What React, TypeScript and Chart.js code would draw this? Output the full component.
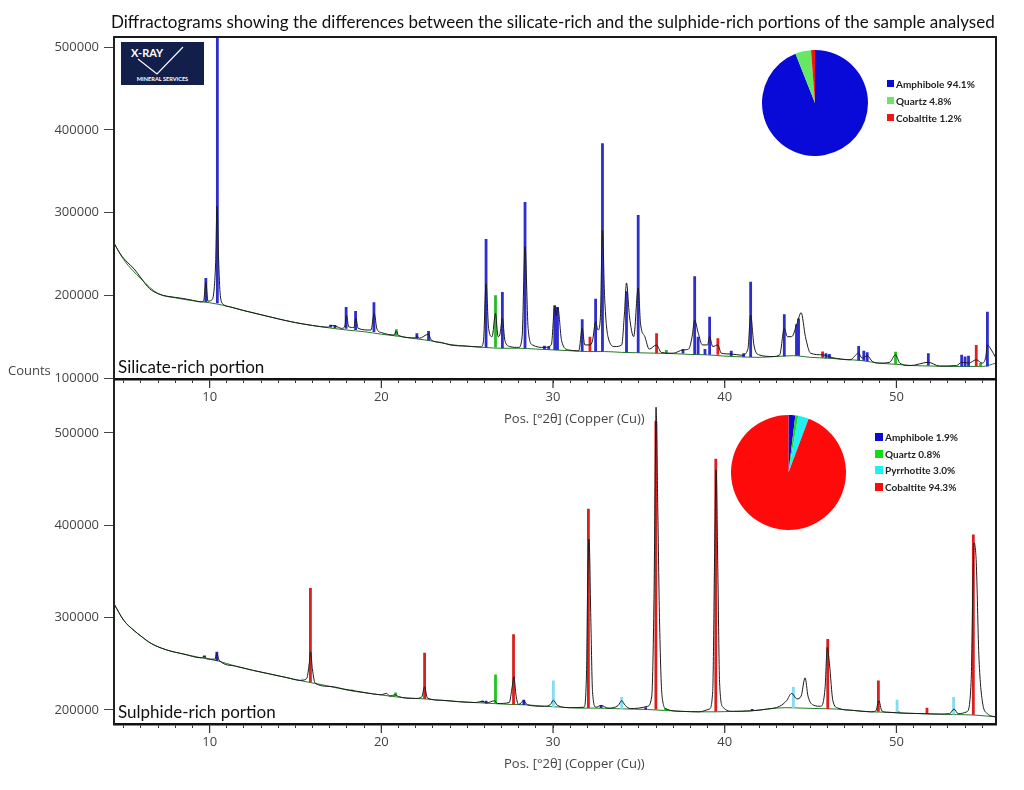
import React, { useEffect, useRef } from "react";
import { Chart, registerables } from "chart.js";

Chart.register(...registerables);

type Pt = [number, number];
type Stick = [number, number, number]; // position, base, top

// ---------- Silicate-rich portion (top panel) ----------
const silicateProfile: Pt[] = [
  [4.43, 263000], [4.8, 250000], [5.2, 240000], [5.6, 232000], [6.0, 221000], [6.5, 208000],
  [7.0, 202000], [7.5, 199000], [8.0, 197500], [8.5, 196000], [9.0, 194000], [9.5, 192000],
  [9.65, 193000], [9.78, 216000], [9.9, 193000], [10.1, 194000], [10.25, 205000], [10.35, 240000],
  [10.43, 308000], [10.52, 245000], [10.62, 200000], [10.8, 189000], [11.2, 186000], [12.0, 181500],
  [13.0, 176500], [14.0, 171500], [15.0, 167000], [16.0, 163500], [16.9, 161500], [17.05, 163500],
  [17.3, 163000], [17.7, 160000], [17.88, 163000], [17.97, 176000], [18.1, 162000], [18.4, 161000],
  [18.52, 172000], [18.65, 160000], [19.4, 158000], [19.58, 178000], [19.75, 159000], [20.0, 155000],
  [20.75, 152000], [20.87, 157000], [21.0, 151500], [22.0, 148500], [22.07, 151000], [22.2, 148000],
  [22.75, 153000], [22.9, 146000], [23.5, 143000], [24.0, 140000], [25.0, 138500], [25.8, 137500],
  [25.95, 145000], [26.1, 214000], [26.25, 160000], [26.45, 150000], [26.65, 178000], [26.8, 150000],
  [26.9, 152000], [27.05, 172000], [27.2, 145000], [27.5, 138000], [28.0, 137000], [28.2, 150000],
  [28.37, 259000], [28.55, 160000], [28.8, 140000], [29.5, 137000], [29.9, 140000], [30.1, 187000],
  [30.18, 175000], [30.28, 185000], [30.5, 145000], [30.9, 134000], [31.5, 133000], [31.7, 160000],
  [31.85, 140000], [32.15, 140000], [32.3, 145000], [32.48, 168000], [32.62, 158000], [32.75, 170000],
  [32.88, 279000], [33.0, 200000], [33.2, 150000], [33.6, 138000], [34.0, 140000], [34.15, 175000],
  [34.28, 215000], [34.45, 175000], [34.7, 150000], [34.96, 209000], [35.1, 165000], [35.35, 150000],
  [35.6, 135000], [36.03, 140000], [36.3, 131000], [37.0, 130000], [37.57, 134000], [37.9, 135000],
  [38.1, 150000], [38.25, 170000], [38.45, 155000], [38.7, 140000], [39.0, 140000], [39.12, 150000],
  [39.3, 138000], [39.6, 140000], [39.8, 130000], [40.4, 129000], [41.0, 127500], [41.35, 135000],
  [41.51, 176000], [41.7, 140000], [42.0, 128000], [42.8, 126000], [43.2, 128000], [43.47, 160000],
  [43.65, 150000], [43.9, 150000], [44.2, 165000], [44.45, 179000], [44.7, 150000], [45.0, 130000],
  [45.7, 128000], [46.3, 124500], [47.3, 122000], [47.8, 130000], [48.0, 124000], [48.3, 127000],
  [48.6, 120000], [49.0, 118000], [49.6, 119000], [49.95, 128000], [50.2, 118000], [50.8, 115000],
  [51.86, 119000], [52.5, 114500], [53.5, 115000], [53.8, 119000], [54.2, 118000], [54.65, 122000],
  [55.0, 118000], [55.2, 125000], [55.3, 140000], [55.5, 135000], [55.8, 124000],
];

const silicateBackground: Pt[] = [
  [4.43, 263000], [5.0, 243000], [6.0, 220000], [7.0, 202000], [8.0, 197000], [9.0, 193500],
  [10.0, 191000], [11.0, 187000], [12.0, 181500], [13.0, 176500], [14.0, 171500], [15.0, 167000],
  [16.0, 163500], [17.0, 160500], [18.0, 158000], [19.0, 156000], [20.0, 153000], [21.0, 150500],
  [22.0, 147500], [23.0, 144500], [24.0, 140500], [25.0, 138500], [26.0, 137000], [27.0, 136000],
  [28.0, 136000], [29.0, 135000], [30.0, 134000], [31.0, 133000], [32.0, 132000], [33.0, 132000],
  [34.0, 131000], [35.0, 130500], [36.0, 130000], [37.0, 129500], [38.0, 128500], [39.0, 128000],
  [40.0, 126500], [41.0, 125500], [42.0, 125000], [43.0, 126000], [44.0, 127000], [45.0, 125000],
  [46.0, 124000], [47.0, 122500], [48.0, 121000], [49.0, 118000], [50.0, 116500], [51.0, 115000],
  [52.0, 114500], [53.0, 114000], [54.0, 114000], [55.0, 114000], [55.8, 118000],
];

const silicateAmphibole: Stick[] = [
  [9.78, 192000, 221000], [10.45, 190500, 540000], [17.05, 161000, 164500], [17.3, 160500, 164000],
  [17.95, 159500, 186000], [18.5, 158000, 181000], [19.57, 155500, 191500], [22.07, 147500, 154000],
  [22.75, 145500, 157000], [26.1, 137000, 268000], [27.05, 136000, 204000], [28.37, 136000, 313000],
  [29.5, 135000, 139000], [29.75, 134500, 138500], [30.1, 134000, 188000], [30.26, 134000, 186000],
  [31.7, 132500, 171000], [32.48, 132000, 196000], [32.88, 132000, 384000], [34.28, 131000, 205000],
  [34.96, 130500, 297000], [37.57, 129500, 135000], [38.25, 128500, 223000], [38.45, 128500, 150000],
  [38.85, 128000, 135000], [39.12, 128000, 174000], [40.38, 126500, 133000], [41.1, 125500, 130000],
  [41.51, 125500, 216500], [43.47, 126000, 177000], [44.18, 127000, 165000], [44.3, 127000, 172000],
  [45.9, 124000, 130000], [46.1, 124000, 129000], [47.8, 121500, 138700], [48.1, 121000, 133000],
  [48.3, 120500, 131000], [51.86, 115000, 130000], [53.8, 114000, 128000], [54.0, 114000, 126000],
  [54.2, 114000, 127000], [55.3, 114000, 180000],
];
const silicateQuartz: Stick[] = [
  [20.87, 150500, 159000], [26.65, 137000, 200000], [36.6, 130000, 134000], [49.95, 117000, 131800],
  [54.9, 114000, 118000],
];
const silicateCobaltite: Stick[] = [
  [32.15, 132000, 150000], [36.03, 130000, 154000], [39.6, 128000, 148000], [45.7, 124500, 132000],
  [54.65, 114000, 140000],
];

// ---------- Sulphide-rich portion (bottom panel) ----------
const sulphideProfile: Pt[] = [
  [4.43, 315000], [5.0, 297000], [5.6, 286000], [6.0, 280000], [6.6, 272000], [7.5, 265000],
  [8.5, 260500], [9.5, 256500], [9.7, 258000], [9.85, 255500], [10.3, 255000], [10.42, 261000],
  [10.55, 254000], [11.5, 247500], [12.5, 243000], [13.5, 239000], [14.5, 235000], [15.3, 232000],
  [15.65, 234000], [15.8, 250000], [15.88, 263000], [15.98, 245000], [16.15, 229000], [17.0, 225500],
  [18.0, 222000], [19.0, 219000], [20.0, 216500], [20.3, 218000], [20.5, 215000], [20.8, 216500],
  [21.0, 214500], [22.0, 212500], [22.35, 214000], [22.52, 225000], [22.68, 213000], [23.5, 210500],
  [24.5, 209000], [25.5, 208000], [25.9, 209500], [26.1, 207500], [26.6, 210000], [26.75, 207000],
  [27.45, 208000], [27.62, 225000], [27.72, 236000], [27.85, 215000], [28.0, 206000], [28.3, 210000],
  [28.5, 205500], [29.5, 204000], [29.85, 206000], [30.02, 210500], [30.25, 205000], [31.0, 202500],
  [31.8, 203000], [31.95, 240000], [32.02, 340000], [32.1, 385000], [32.2, 300000], [32.3, 220000],
  [32.5, 203000], [32.8, 205000], [33.2, 202000], [33.8, 205000], [34.0, 210000], [34.2, 205000],
  [34.5, 201500], [35.0, 202000], [35.5, 204000], [35.75, 215000], [35.88, 320000], [35.95, 450000],
  [36.0, 528000], [36.1, 420000], [36.2, 300000], [36.35, 215000], [36.6, 201000], [37.5, 198500],
  [38.5, 198000], [39.1, 201000], [39.3, 220000], [39.42, 380000], [39.5, 460000], [39.6, 350000],
  [39.7, 230000], [39.9, 203000], [40.5, 198500], [41.5, 199000], [42.5, 201000], [43.2, 204000],
  [43.6, 210000], [43.9, 218000], [44.2, 212000], [44.45, 215000], [44.68, 234800], [44.85, 215000],
  [45.2, 205000], [45.6, 204000], [45.85, 225000], [45.97, 268000], [46.1, 250000], [46.3, 210000],
  [46.6, 202000], [47.5, 199500], [48.5, 198000], [48.8, 199000], [48.98, 210000], [49.15, 199000],
  [49.5, 197500], [50.5, 196500], [51.5, 196000], [52.5, 195500], [53.1, 196000], [53.35, 201000],
  [53.6, 196000], [54.1, 198000], [54.35, 230000], [54.45, 330000], [54.52, 381000], [54.65, 360000],
  [54.8, 260000], [55.0, 210000], [55.3, 196000], [55.8, 192500],
];

const sulphideBackground: Pt[] = [
  [4.43, 315000], [5.0, 297000], [5.6, 286000], [6.0, 280000], [6.6, 272000], [7.5, 265000],
  [8.5, 260500], [9.5, 256500], [10.5, 253000], [11.5, 247500], [12.5, 243000], [13.5, 239000],
  [14.5, 235000], [15.5, 231000], [16.5, 227500], [17.5, 223500], [18.5, 220000], [19.5, 217500],
  [20.5, 215000], [21.5, 213000], [22.5, 212000], [23.5, 210500], [24.5, 209000], [25.5, 208000],
  [26.5, 207000], [27.5, 206000], [28.5, 205500], [29.5, 204000], [30.5, 203000], [31.5, 202000],
  [32.5, 202000], [33.5, 201500], [34.5, 201000], [35.5, 200500], [36.5, 199500], [37.5, 198500],
  [38.5, 198000], [39.5, 198000], [40.5, 198500], [41.5, 199000], [42.5, 201000], [43.5, 202500],
  [44.5, 202000], [45.5, 201500], [46.5, 201000], [47.5, 199500], [48.5, 198000], [49.5, 197500],
  [50.5, 196500], [51.5, 196000], [52.5, 195500], [53.5, 195000], [54.5, 194500], [55.8, 192500],
];

const sulphideCobaltite: Stick[] = [
  [15.87, 230000, 332000], [22.52, 212000, 262000], [27.7, 206000, 282000], [32.06, 202000, 418000],
  [35.99, 200500, 513000], [39.48, 198000, 472000], [46.0, 201000, 277000], [48.95, 198000, 232000],
  [51.78, 196000, 202500], [54.48, 194500, 390000],
];
const sulphidePyrrhotite: Stick[] = [
  [15.4, 231500, 234000], [30.02, 203000, 232000], [34.0, 201000, 214000], [44.0, 202000, 225000],
  [50.04, 196500, 211000], [53.33, 195000, 214000],
];
const sulphideAmphibole: Stick[] = [
  [9.7, 256500, 259000], [10.42, 253000, 263000], [18.3, 220500, 222000], [25.9, 208000, 210000],
  [26.1, 207500, 210000], [28.3, 205500, 211000], [32.8, 202000, 205000], [35.4, 200500, 203000],
  [41.6, 199000, 201000],
];
const sulphideQuartz: Stick[] = [
  [20.83, 215000, 219000], [26.65, 207000, 238500], [36.55, 199500, 202000], [50.1, 196500, 199000],
];

// ---------- Axes / ticks ----------
const xRange: [number, number] = [4.43, 55.8];
const xLabelEvery = 10;
const silicateYRange: [number, number] = [98800, 512400];
const sulphideYRange: [number, number] = [184800, 557400];
const silicateYTicks = [100000, 200000, 300000, 400000, 500000];
const sulphideYTicks = [200000, 300000, 400000, 500000];

// ---------- Phase proportions ----------
const silicatePhases = ["Amphibole", "Quartz", "Cobaltite"];
const silicateShares = [94.1, 4.8, 1.2];
const silicateColors = ["#0a0ad8", "#66e866", "#ee1515"];
const sulphidePhases = ["Amphibole", "Quartz", "Pyrrhotite", "Cobaltite"];
const sulphideShares = [1.9, 0.8, 3.0, 94.3];
const sulphideColors = ["#0a0ad0", "#12dd12", "#22f0f0", "#ff0a0a"];

const TICK_FONT = { family: "'Open Sans', sans-serif", size: 13 };
const TEXT_COLOR = "#444";

const stickData = (s: Stick[]) =>
  s.flatMap(([x, b, t]) => [{ x, y: b }, { x, y: t }, { x, y: null as number | null }]);
const ptData = (p: Pt[]) => p.map(([x, y]) => ({ x, y }));

const framePlugin = {
  id: "frame",
  afterDraw(chart: any, _args: any, opts: any) {
    const { ctx, chartArea } = chart;
    const { left, right, top, bottom } = chartArea;
    ctx.save();
    ctx.strokeStyle = "#1a1a1a";
    ctx.lineWidth = 2;
    ctx.beginPath();
    if (opts.top) {
      ctx.moveTo(left, top);
      ctx.lineTo(right, top);
    }
    ctx.moveTo(right, top - (opts.top ? 1 : 0));
    ctx.lineTo(right, bottom);
    ctx.stroke();
    const xs = chart.scales.x;
    ctx.beginPath();
    ctx.lineWidth = 1.2;
    ctx.strokeStyle = "#333";
    xs.ticks.forEach((t: any) => {
      if (Math.round(t.value) % xLabelEvery === 0) {
        const px = xs.getPixelForValue(t.value);
        ctx.moveTo(px, bottom);
        ctx.lineTo(px, bottom + 9);
      }
    });
    ctx.stroke();
    ctx.restore();
  },
};

type PanelProps = {
  profile: Pt[];
  background: Pt[];
  sticks: { data: Stick[]; color: string }[];
  yRange: [number, number];
  yTicks: number[];
  padTop: number;
  xHeight: number;
  frameTop: boolean;
  top: number;
  height: number;
  z: number;
};

function Panel(p: PanelProps) {
  const ref = useRef<HTMLCanvasElement>(null);
  useEffect(() => {
    if (!ref.current) return;
    const datasets: any[] = [
      {
        data: ptData(p.profile),
        borderColor: "#1b1b1b",
        borderWidth: 1,
        pointRadius: 0,
        cubicInterpolationMode: "monotone",
        order: 1,
      },
      ...p.sticks.map((s) => ({
        data: stickData(s.data),
        borderColor: s.color,
        borderWidth: 2.8,
        pointRadius: 0,
        spanGaps: false,
        order: 2,
      })),
      {
        data: ptData(p.background),
        borderColor: "#237a23",
        borderWidth: 1,
        pointRadius: 0,
        cubicInterpolationMode: "monotone",
        order: 3,
      },
    ];
    const chart = new Chart(ref.current, {
      type: "line",
      data: { datasets },
      plugins: [framePlugin],
      options: {
        animation: false,
        responsive: true,
        maintainAspectRatio: false,
        layout: { padding: { top: p.padTop, right: 28, left: 0, bottom: 0 } },
        plugins: {
          legend: { display: false },
          tooltip: { enabled: false },
          frame: { top: p.frameTop },
        } as any,
        scales: {
          x: {
            type: "linear",
            min: xRange[0],
            max: xRange[1],
            afterFit: (s: any) => {
              s.height = p.xHeight;
            },
            ticks: {
              stepSize: 1,
              autoSkip: false,
              maxRotation: 0,
              includeBounds: false,
              padding: 6,
              font: TICK_FONT,
              color: TEXT_COLOR,
              callback: (v: any) => (Math.round(v) % xLabelEvery === 0 ? String(Math.round(v)) : ""),
            },
            grid: { drawOnChartArea: false, drawTicks: true, tickLength: 4, color: "#333" },
            border: { display: true, color: "#111", width: 2.5 },
          },
          y: {
            type: "linear",
            min: p.yRange[0],
            max: p.yRange[1],
            afterFit: (s: any) => {
              s.width = 114;
            },
            afterBuildTicks: (s: any) => {
              s.ticks = p.yTicks.map((v) => ({ value: v }));
            },
            ticks: {
              padding: 5,
              font: TICK_FONT,
              color: TEXT_COLOR,
              callback: (v: any) => String(v),
            },
            grid: { drawOnChartArea: false, drawTicks: true, tickLength: 10, color: "#444" },
            border: { display: true, color: "#222", width: 2 },
          },
        },
      },
    });
    return () => chart.destroy();
  }, []);
  return (
    <div style={{ position: "absolute", left: 0, top: p.top, width: 1024, height: p.height, zIndex: p.z }}>
      <canvas ref={ref} />
    </div>
  );
}

function Pie(props: { labels: string[]; values: number[]; colors: string[]; left: number; top: number; size: number }) {
  const ref = useRef<HTMLCanvasElement>(null);
  useEffect(() => {
    if (!ref.current) return;
    const chart = new Chart(ref.current, {
      type: "pie",
      data: {
        labels: props.labels,
        datasets: [{ data: props.values, backgroundColor: props.colors, borderWidth: 0 }],
      },
      options: {
        animation: false,
        responsive: true,
        maintainAspectRatio: false,
        plugins: { legend: { display: false }, tooltip: { enabled: false } },
      },
    });
    return () => chart.destroy();
  }, []);
  return (
    <div style={{ position: "absolute", left: props.left, top: props.top, width: props.size, height: props.size, zIndex: 5 }}>
      <canvas ref={ref} />
    </div>
  );
}

function Legend(props: { labels: string[]; values: number[]; colors: string[]; left: number; top: number; box: number; rowH: number }) {
  return (
    <div style={{ position: "absolute", left: props.left, top: props.top, zIndex: 6 }}>
      {props.labels.map((l, i) => (
        <div key={l} style={{ display: "flex", alignItems: "center", height: props.rowH }}>
          <span style={{ display: "inline-block", width: props.box, height: props.box, background: props.colors[i], marginRight: 2 }} />
          <span style={{ font: "bold 10px Lato, sans-serif", color: "#222", whiteSpace: "nowrap" }}>
            {l} {props.values[i].toFixed(1)}%
          </span>
        </div>
      ))}
    </div>
  );
}

function Logo() {
  return (
    <svg width={83} height={43} style={{ position: "absolute", left: 121, top: 42, zIndex: 6 }}>
      <rect x={0} y={0} width={83} height={43} fill="#131f4b" />
      <text x={10} y={15} fill="#fff" fontWeight="bold" fontSize={11} fontFamily="Lato, sans-serif">X-RAY</text>
      <polyline points="17,17 36,32 62,5" stroke="#fff" strokeWidth={1.1} fill="none" />
      <text x={41.5} y={39} fill="#fff" fontWeight="bold" fontSize={5.6} textAnchor="middle" fontFamily="Lato, sans-serif">
        MINERAL SERVICES
      </text>
    </svg>
  );
}

const txt = (s: React.CSSProperties): React.CSSProperties => ({ position: "absolute", whiteSpace: "nowrap", zIndex: 7, ...s });

export default function App() {
  return (
    <div style={{ position: "absolute", left: 0, top: 0, width: 1024, height: 790, background: "#fff", overflow: "hidden" }}>
      <Panel
        profile={sulphideProfile}
        background={sulphideBackground}
        sticks={[
          { data: sulphideCobaltite, color: "#d91f1f" },
          { data: sulphidePyrrhotite, color: "#86dcef" },
          { data: sulphideAmphibole, color: "#2424bb" },
          { data: sulphideQuartz, color: "#22c422" },
        ]}
        yRange={sulphideYRange}
        yTicks={sulphideYTicks}
        padTop={20}
        xHeight={66}
        frameTop={false}
        top={360}
        height={430}
        z={1}
      />
      <Panel
        profile={silicateProfile}
        background={silicateBackground}
        sticks={[
          { data: silicateAmphibole, color: "#2e2ecc" },
          { data: silicateQuartz, color: "#2ab82a" },
          { data: silicateCobaltite, color: "#e02020" },
        ]}
        yRange={silicateYRange}
        yTicks={silicateYTicks}
        padTop={37}
        xHeight={51}
        frameTop={true}
        top={0}
        height={430}
        z={2}
      />
      <Pie labels={silicatePhases} values={silicateShares} colors={silicateColors} left={762} top={50} size={106} />
      <Pie labels={sulphidePhases} values={sulphideShares} colors={sulphideColors} left={731} top={415} size={115} />
      <Legend labels={silicatePhases} values={silicateShares} colors={silicateColors} left={887} top={75} box={7} rowH={17} />
      <Legend labels={sulphidePhases} values={sulphideShares} colors={sulphideColors} left={875} top={429} box={8} rowH={16.5} />
      <Logo />
      <div style={txt({ left: 111, top: 12, font: "17px Lato, sans-serif", lineHeight: "20px", color: "#111" })}>
        Diffractograms showing the differences between the silicate-rich and the sulphide-rich portions of the sample analysed
      </div>
      <div style={txt({ left: 8, top: 362, font: "13px 'Open Sans', sans-serif", lineHeight: "16px", color: TEXT_COLOR })}>Counts</div>
      <div style={txt({ left: 118, top: 357, font: "17px Lato, sans-serif", lineHeight: "20px", color: "#111" })}>Silicate-rich portion</div>
      <div style={txt({ left: 118, top: 702, font: "17px Lato, sans-serif", lineHeight: "20px", color: "#111" })}>Sulphide-rich portion</div>
      <div style={txt({ left: 504, top: 410, font: "13px 'Open Sans', sans-serif", lineHeight: "16px", color: TEXT_COLOR })}>
        Pos. [°2θ] (Copper (Cu))
      </div>
      <div style={txt({ left: 504, top: 755, font: "13px 'Open Sans', sans-serif", lineHeight: "16px", color: TEXT_COLOR })}>
        Pos. [°2θ] (Copper (Cu))
      </div>
    </div>
  );
}
